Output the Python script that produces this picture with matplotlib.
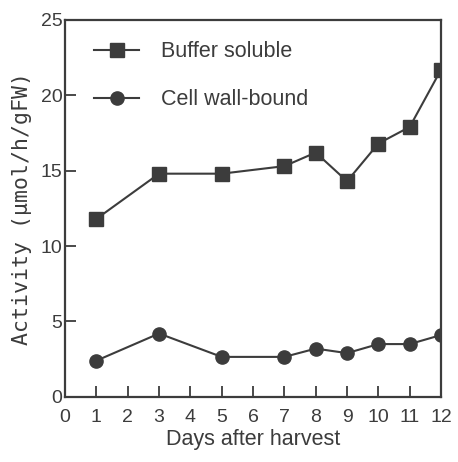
import numpy as np
import matplotlib
matplotlib.use('Agg')
import matplotlib.pyplot as plt

plt.rcParams['font.family'] = ['Liberation Sans', 'DejaVu Sans']

days = [1, 3, 5, 7, 8, 9, 10, 11, 12]
buffer_soluble = [11.8, 14.8, 14.8, 15.3, 16.2, 14.3, 16.8, 17.9, 21.7]
cell_wall_bound = [2.4, 4.2, 2.65, 2.65, 3.2, 2.9, 3.5, 3.5, 4.1]
xticks = list(range(0, 13))
yticks = [0, 5, 10, 15, 20, 25]

c = '#3c3c3c'
fig = plt.figure(figsize=(4.58, 4.62), dpi=100)
ax = fig.add_axes([0.142, 0.141, 0.821, 0.816])

ax.plot(days, buffer_soluble, '-s', color=c, lw=1.5, ms=10, label='Buffer soluble')
ax.plot(days, cell_wall_bound, '-o', color=c, lw=1.5, ms=9.5, label='Cell wall-bound')

ax.set_xlim(0, 12)
ax.set_ylim(0, 25)
ax.set_xticks(xticks)
ax.set_yticks(yticks)
ax.tick_params(direction='in', length=8, width=1.3, colors=c, labelsize=14, pad=9)
ax.tick_params(axis='y', pad=2)
for s in ax.spines.values():
    s.set_color(c)
    s.set_linewidth(1.6)

ax.set_xlabel('Days after harvest', fontsize=15.5, color=c, labelpad=2)
ax.set_ylabel('Activity (μmol/h/gFW)', fontsize=15.5, color=c, labelpad=6,
              family=['DejaVu Sans Mono', 'DejaVu Sans'])

leg = ax.legend(loc='upper left', frameon=False, fontsize=15.5, handlelength=2.1,
                labelspacing=1.25, borderaxespad=0.6, handletextpad=1.0,
                bbox_to_anchor=(0.02, 1.0))
for t in leg.get_texts():
    t.set_color(c)

fig.savefig('out.png', dpi=100)
